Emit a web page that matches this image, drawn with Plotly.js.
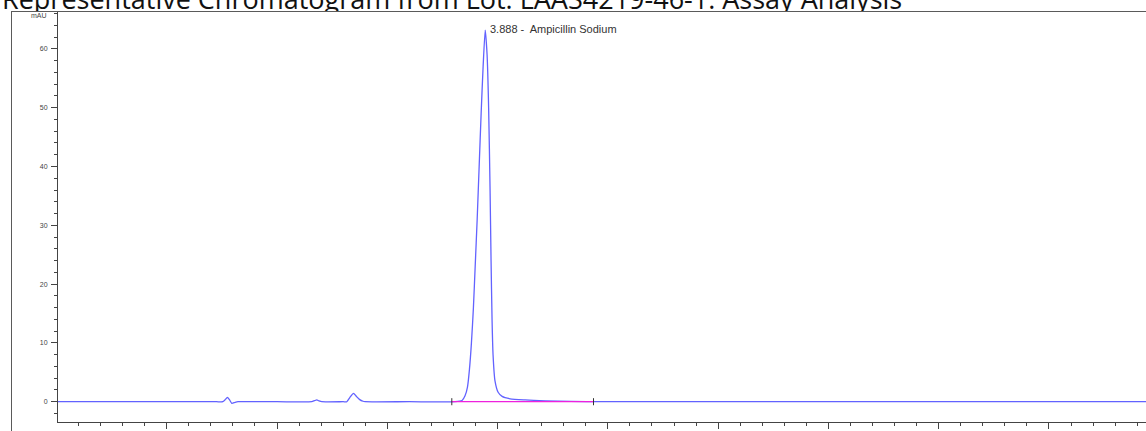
<!DOCTYPE html>
<html>
<head>
<meta charset="utf-8">
<script src="https://cdn.plot.ly/plotly-3.0.1.min.js"></script>
<style>
  html, body { margin: 0; padding: 0; background: #fff; overflow: hidden; }
  #chart { position: absolute; left: 0; top: 0; width: 1146px; height: 431px; }
  #frame { position: absolute; left: 11px; top: 11px; width: 1400px; height: 600px;
           border: 1px solid #5a5a5a; pointer-events: none; z-index: 10; }
</style>
</head>
<body>
<div id="chart"></div>
<div id="frame"></div>
<script>
// ---- data ----
const timeMin = [
  0.00, 1.00, 1.45, 1.508, 1.53, 1.550, 1.57, 1.590, 1.62, 1.647, 2.00,
  2.315, 2.34, 2.361, 2.38, 2.406, 2.60,
  2.633, 2.66, 2.693, 2.72, 2.75, 2.78, 2.799, 3.20, 3.615,
  3.678, 3.705, 3.727, 3.745, 3.763, 3.781, 3.797, 3.815, 3.833, 3.851, 3.869,
  3.888, 3.905, 3.919, 3.932, 3.941, 3.950, 3.959, 3.977, 4.005, 4.041,
  4.114, 4.250, 4.432, 4.66, 4.93, 6.00, 7.50, 9.00, 9.90
];
const signalMAU = [
  0.00, 0.00, 0.00, 0.00, 0.35, 0.75, 0.30, -0.27, -0.10, 0.00, 0.00,
  0.00, 0.18, 0.30, 0.15, 0.00, 0.00,
  0.00, 0.70, 1.43, 0.90, 0.35, 0.08, 0.00, 0.00, 0.00,
  0.20, 1.00, 2.50, 5.50, 10.0, 16.0, 23.0, 31.0, 40.0, 49.0, 57.0,
  63.2, 59.0, 50.0, 36.0, 24.0, 14.0, 8.0, 3.5, 1.6, 0.9,
  0.5, 0.3, 0.15, 0.05, 0.02, 0.00, 0.00, 0.00, 0.00
];
const baselineTime = [3.585, 4.87];
const baselineValue = [0, 0];
const peakTime = 3.888;
const peakHeight = 63.2;
const peakLabel = "3.888 -  Ampicillin Sodium";
const yTickVals = [0, 10, 20, 30, 40, 50, 60];
const yTickText = ["0", "10", "20", "30", "40", "50", "60"];
const xTickVals = [1, 2, 3, 4, 5, 6, 7, 8, 9];
const xTickText = ["1", "2", "3", "4", "5", "6", "7", "8", "9"];
const titleText = "Representative Chromatogram from Lot: LAAS4219-46-1: Assay Analysis";
const yUnit = "mAU";

// ---- traces ----
const signal = {
  x: timeMin, y: signalMAU, type: 'scatter', mode: 'lines',
  line: { color: '#6262ff', width: 1.3, shape: 'spline', smoothing: 0.6 },
  hoverinfo: 'skip'
};
const baseline = {
  x: baselineTime, y: baselineValue, type: 'scatter', mode: 'lines',
  line: { color: '#ee22dd', width: 1.3 }, hoverinfo: 'skip'
};
const startMark = {
  x: [baselineTime[0], baselineTime[0]], y: [-0.6, 0.6], type: 'scatter', mode: 'lines',
  line: { color: '#333', width: 1 }, hoverinfo: 'skip'
};
const endMark = {
  x: [baselineTime[1], baselineTime[1]], y: [-0.6, 0.6], type: 'scatter', mode: 'lines',
  line: { color: '#333', width: 1 }, hoverinfo: 'skip'
};

const layout = {
  width: 1146, height: 431,
  margin: { l: 58, r: 0, t: 12, b: 9, pad: 0 },
  paper_bgcolor: '#fff', plot_bgcolor: '#fff',
  showlegend: false,
  title: {
    text: titleText, xref: 'container', yref: 'container',
    x: 2 / 1146, xanchor: 'left', y: 1 - 8.5 / 431, yanchor: 'bottom',
    font: { family: 'Open Sans, Noto Sans, sans-serif', size: 27, color: '#111' }
  },
  xaxis: {
    range: [0.014, 9.88], showgrid: false, zeroline: false,
    showline: true, linecolor: '#444', linewidth: 1,
    ticks: 'outside', ticklen: 6, tickcolor: '#444', tickwidth: 1,
    tickmode: 'array', tickvals: xTickVals, ticktext: xTickText,
    minor: { dtick: 0.2, tick0: 0, ticks: 'outside', ticklen: 3, tickcolor: '#444', showgrid: false },
    tickfont: { family: 'Arial, Liberation Sans, sans-serif', size: 8, color: '#444' }
  },
  yaxis: {
    range: [-3.45, 66.27], showgrid: false, zeroline: false,
    showline: true, linecolor: '#444', linewidth: 1,
    ticks: 'outside', ticklen: 6, tickcolor: '#444', tickwidth: 1,
    tickmode: 'array', tickvals: yTickVals, ticktext: yTickText,
    minor: { dtick: 2, tick0: 0, ticks: 'outside', ticklen: 3, tickcolor: '#444', showgrid: false },
    tickfont: { family: 'Arial, Liberation Sans, sans-serif', size: 7, color: '#444' },
    ticklabelstandoff: 2
  },
  annotations: [
    {
      x: peakTime, y: peakHeight, xref: 'x', yref: 'y',
      text: peakLabel, showarrow: false, xanchor: 'left', yanchor: 'middle',
      xshift: 3, yshift: 1,
      font: { family: 'Arial, Liberation Sans, sans-serif', size: 11, color: '#333' }
    },
    {
      x: -0.0175, y: 0.991, xref: 'paper', yref: 'paper',
      text: yUnit, showarrow: false, xanchor: 'center', yanchor: 'middle',
      font: { family: 'Arial, Liberation Sans, sans-serif', size: 7, color: '#444' }
    }
  ]
};

Plotly.newPlot('chart', [signal, baseline, startMark, endMark], layout, { staticPlot: true, displayModeBar: false })
  .then(function (gd) {
    // the chart frame hides the lower part of the title, as in the reference
    const svgs = gd.querySelectorAll('svg.main-svg');
    const ns = 'http://www.w3.org/2000/svg';
    svgs.forEach(function (s, i) {
      let defs = s.querySelector('defs');
      if (!defs) { defs = document.createElementNS(ns, 'defs'); s.insertBefore(defs, s.firstChild); }
      const cp = document.createElementNS(ns, 'clipPath');
      cp.setAttribute('id', 'titleclip-' + i);
      const r = document.createElementNS(ns, 'rect');
      r.setAttribute('x', '-10'); r.setAttribute('y', '-60');
      r.setAttribute('width', '1300'); r.setAttribute('height', '71');
      cp.appendChild(r); defs.appendChild(cp);
      s.querySelectorAll('.g-gtitle').forEach(function (g) {
        g.setAttribute('clip-path', 'url(#titleclip-' + i + ')');
      });
    });
  });
</script>
</body>
</html>
